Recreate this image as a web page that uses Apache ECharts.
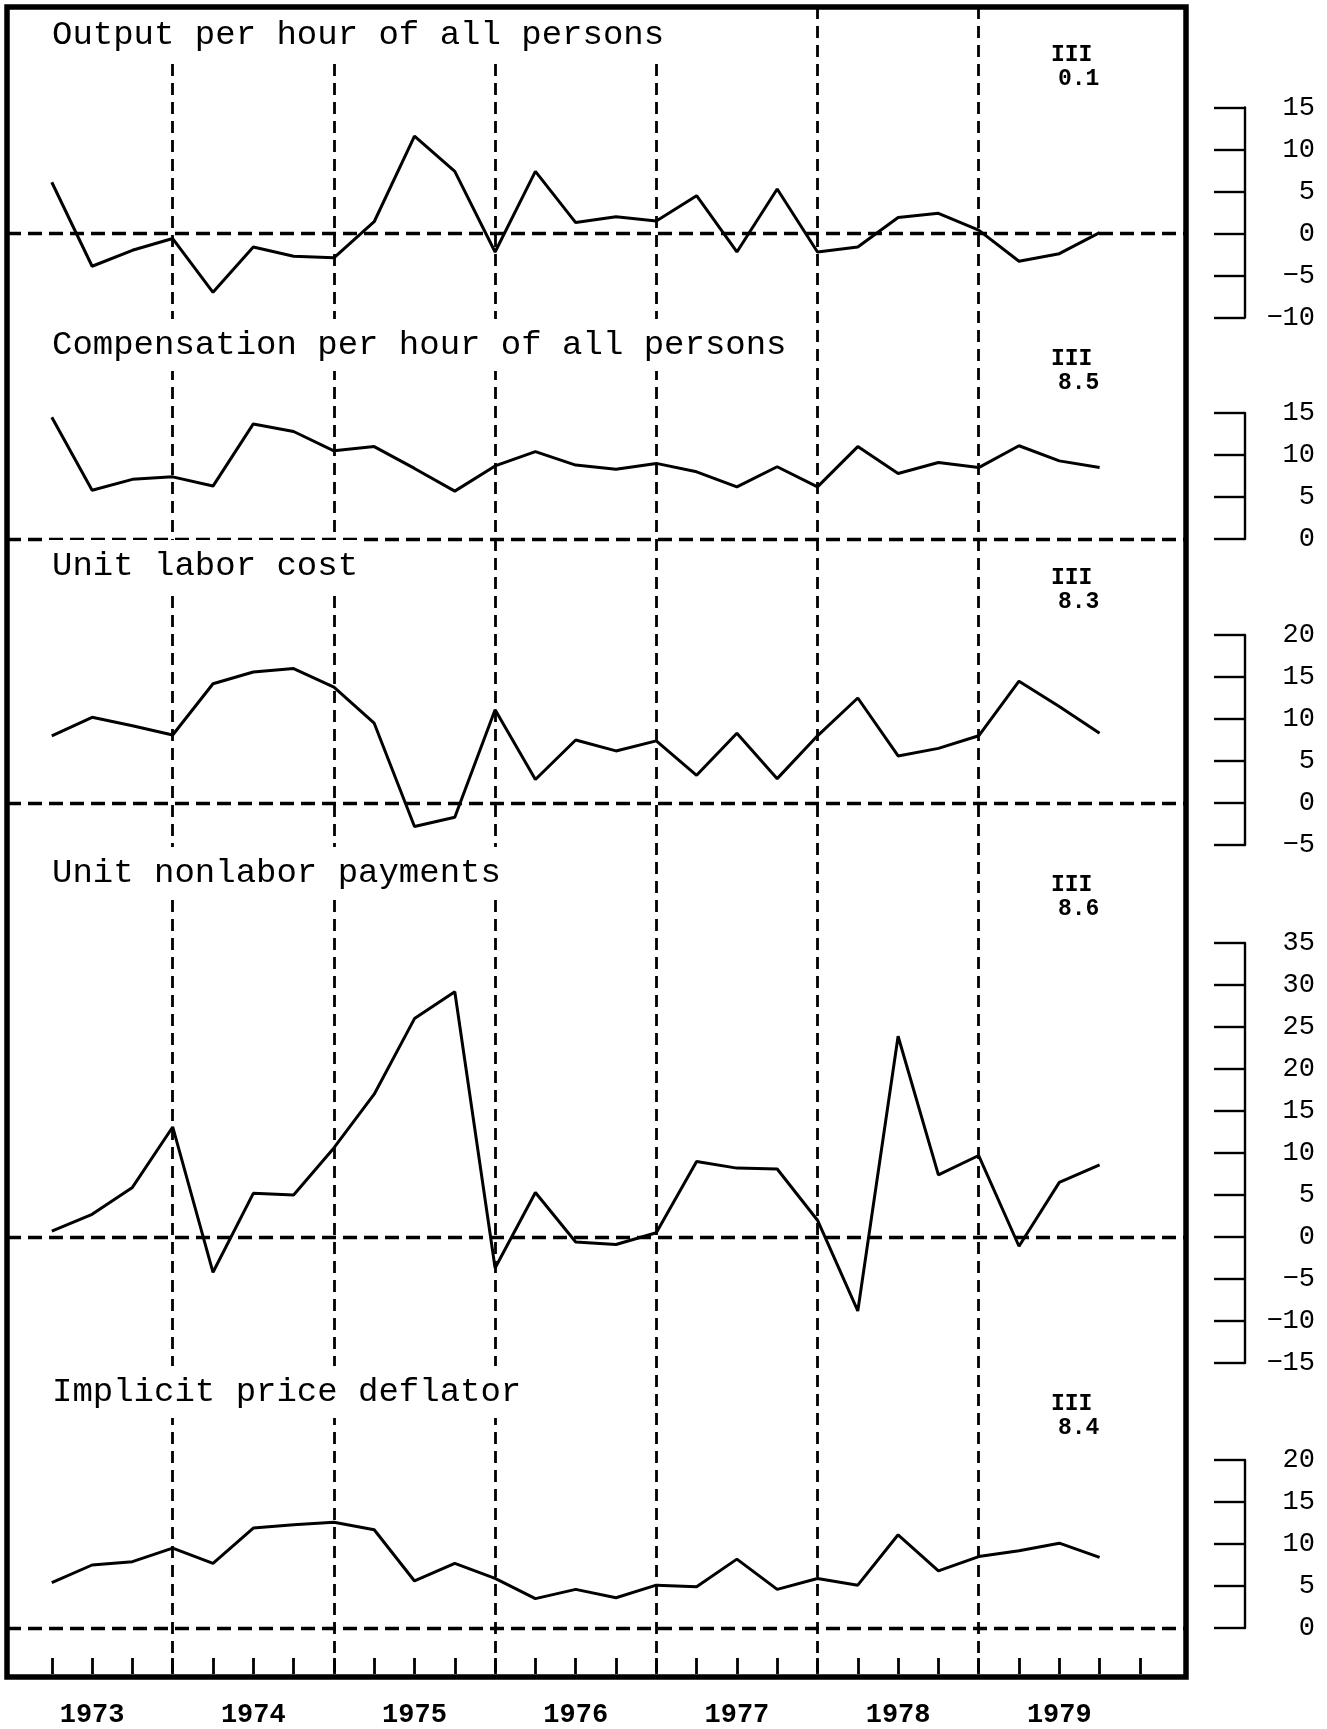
<!DOCTYPE html>
<html>
<head>
<meta charset="utf-8">
<script src="https://cdn.jsdelivr.net/npm/echarts@6/dist/echarts.min.js"></script>
<style>
html,body{margin:0;padding:0;background:#fff;}
#c{width:1327px;height:1729px;}
</style>
</head>
<body>
<div id="c"></div>
<script>
// ---------------- data ----------------
const quarters = [];
const years = ['1973','1974','1975','1976','1977','1978','1979'];
years.forEach(y => ['I','II','III','IV'].forEach(q => quarters.push(y + ' ' + q)));

const outputPerHour = [6.1, -3.9, -2.0, -0.6, -7.0, -1.6, -2.7, -2.9, 1.4, 11.6, 7.4, -2.2, 7.4, 1.3, 2.0, 1.5, 4.5, -2.2, 5.3, -2.2, -1.6, 1.9, 2.4, 0.4, -3.3, -2.4, 0.1];
const compensationPerHour = [14.5, 5.8, 7.1, 7.4, 6.3, 13.7, 12.8, 10.5, 11.0, 8.4, 5.7, 8.7, 10.4, 8.8, 8.3, 9.0, 8.0, 6.2, 8.6, 6.2, 11.0, 7.8, 9.1, 8.5, 11.1, 9.3, 8.5];
const unitLaborCost = [8.0, 10.2, 9.2, 8.1, 14.2, 15.6, 16.0, 13.8, 9.5, -2.8, -1.7, 11.1, 2.8, 7.5, 6.2, 7.4, 3.3, 8.3, 2.9, 8.0, 12.5, 5.6, 6.5, 8.0, 14.5, 11.5, 8.3];
const unitNonlaborPayments = [0.7, 2.7, 5.9, 13.1, -4.2, 5.2, 5.0, 10.6, 17.0, 26.0, 29.2, -3.7, 5.3, -0.6, -0.9, 0.5, 9.0, 8.2, 8.1, 2.0, -8.8, 23.9, 7.4, 9.7, -1.1, 6.5, 8.6];
const implicitPriceDeflator = [5.4, 7.5, 7.9, 9.5, 7.7, 11.9, 12.3, 12.6, 11.7, 5.6, 7.7, 5.9, 3.5, 4.6, 3.6, 5.1, 4.9, 8.2, 4.6, 5.9, 5.1, 11.1, 6.8, 8.5, 9.2, 10.1, 8.4];

const panelTitles = ['Output per hour of all persons', 'Compensation per hour of all persons', 'Unit labor cost', 'Unit nonlabor payments', 'Implicit price deflator'];
const latestQuarter = 'III';
const latestValues = ['0.1', '8.5', '8.3', '8.6', '8.4'];
const yMins = [-10, 0, -5, -15, 0];
const yMaxs = [15, 15, 20, 35, 20];
const yStep = 5;

const seriesValues = [outputPerHour, compensationPerHour, unitLaborCost, unitNonlaborPayments, implicitPriceDeflator];

// ---------------- layout ----------------
const frameL = 7, frameT = 7, frameR = 1186, frameB = 1677;
const x0 = 51.8, dx = 40.3;            // pixel of first quarter and quarter spacing
const pxPerUnit = 8.4;
const panelTopPx = [107.5, 413, 635, 943, 1460];   // pixel of yMax
const titleY = [35, 345, 566, 873, 1392];
const latestY = [55, 359, 578, 885, 1404];

const grids = [], xAxes = [], yAxes = [], series = [], graphics = [];

// background grid: quarter ticks, year labels, vertical dashed lines
grids.push({left: x0, top: frameT, width: dx * (quarters.length - 1), height: frameB - frameT});
xAxes.push({
  gridIndex: 0, type: 'category', data: quarters, boundaryGap: false,
  axisLine: {show: false},
  axisTick: {show: true, inside: true, length: 16, interval: 0, lineStyle: {color: '#000', width: 2.8}},
  axisLabel: {
    show: true, interval: (i) => i % 4 === 1, margin: 28,
    formatter: (v) => v.split(' ')[0],
    color: '#000', fontFamily: 'Liberation Mono', fontWeight: 'bold', fontSize: 27
  },
  splitLine: {show: true, interval: (i) => i % 4 === 3 && i < quarters.length - 1,
              lineStyle: {color: '#000', width: 2.8, type: [12, 7]}}
});
yAxes.push({gridIndex: 0, type: 'value', show: false, min: 0, max: 1});

const xMin = (frameL - x0) / dx, xMax = (frameR - x0) / dx;

seriesValues.forEach((vals, k) => {
  const gi = k + 1;
  const h = (yMaxs[k] - yMins[k]) * pxPerUnit;
  grids.push({left: frameL, top: panelTopPx[k], width: frameR - frameL, height: h});
  xAxes.push({gridIndex: gi, type: 'value', min: xMin, max: xMax, show: false});
  yAxes.push({
    gridIndex: gi, type: 'value', position: 'right', offset: 1245 - frameR,
    min: yMins[k], max: yMaxs[k], interval: yStep,
    axisLine: {show: true, onZero: false, lineStyle: {color: '#000', width: 2.4}},
    axisTick: {show: true, inside: true, length: 31, lineStyle: {color: '#000', width: 2.4}},
    axisLabel: {
      show: true, align: 'right', margin: 70, color: '#000',
      fontFamily: 'Liberation Mono', fontSize: 27,
      formatter: (v) => String(v).replace('-', '\u2212')
    },
    splitLine: {show: false}
  });
  series.push({
    type: 'line', xAxisIndex: gi, yAxisIndex: gi,
    data: vals.map((v, i) => [i, v]),
    symbol: 'none', lineStyle: {color: '#000', width: 3}, z: 5,
    markLine: {
      silent: true, symbol: 'none', label: {show: false},
      lineStyle: {color: '#000', width: 3.4, type: [14, 7]},
      data: [{yAxis: 0}]
    }
  });
  graphics.push({
    type: 'text', z: 100,
    style: {
      text: panelTitles[k], x: 46, y: titleY[k],
      font: '34px "Liberation Mono"', fill: '#000',
      textAlign: 'left', textVerticalAlign: 'middle', align: 'left', verticalAlign: 'middle',
      backgroundColor: '#fff', padding: [9, 6]
    }
  });
  graphics.push({
    type: 'text', z: 100,
    style: {
      text: latestQuarter, x: 1051, y: latestY[k],
      font: 'bold 23px "Liberation Mono"', fill: '#000',
      textAlign: 'left', textVerticalAlign: 'middle', align: 'left', verticalAlign: 'middle'
    }
  });
  graphics.push({
    type: 'text', z: 100,
    style: {
      text: latestValues[k], x: 1058, y: latestY[k] + 24,
      font: 'bold 23px "Liberation Mono"', fill: '#000',
      textAlign: 'left', textVerticalAlign: 'middle', align: 'left', verticalAlign: 'middle'
    }
  });
});

graphics.push({
  type: 'rect', z: 200,
  shape: {x: frameL, y: frameT, width: frameR - frameL, height: frameB - frameT},
  style: {fill: 'none', stroke: '#000', lineWidth: 5.5}
});

const chart = echarts.init(document.getElementById('c'), null, {renderer: 'canvas'});
chart.setOption({
  animation: false,
  backgroundColor: '#fff',
  grid: grids,
  xAxis: xAxes,
  yAxis: yAxes,
  series: series,
  graphic: {elements: graphics}
});
</script>
</body>
</html>
